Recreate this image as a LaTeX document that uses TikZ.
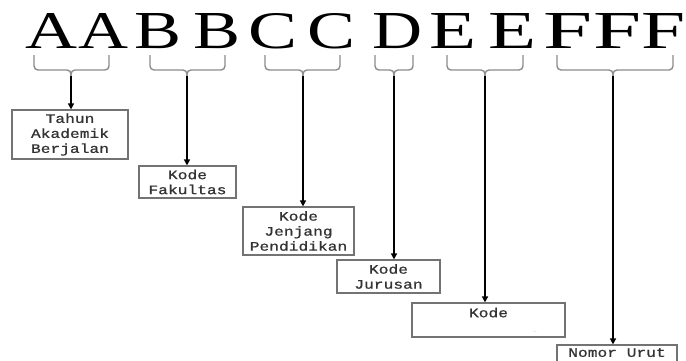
\documentclass[tikz,border=0pt]{standalone}
\usepackage{fontspec}
\usepackage{graphicx}
\usetikzlibrary{arrows.meta}
\newfontfamily\headfont{Liberation Serif}
\newfontfamily\boxfont[FakeStretch=1.25,FakeBold=0.8]{Liberation Mono}

\tikzset{
  letter/.style={anchor=base, inner sep=0pt, font=\headfont\fontsize{50}{50}\selectfont},
  brace/.style={draw=black!45, line width=1.4pt, rounded corners=4pt},
  pointer/.style={draw=black, line width=1.6pt, -{Triangle[length=6pt,width=6pt]}},
  infobox/.style={draw=black!55, line width=1.2pt, align=center, inner sep=0pt,
    font=\boxfont\fontsize{13}{15}\selectfont, text=black!80}
}

% \codebrace{left x}{right x}{stem x}{tip name}
\newcommand\codebrace[4]{%
  \draw[brace] (#1,55) -- (#1,70) -- (#3,70) -- (#3,78);
  \draw[brace] (#2,55) -- (#2,70) -- (#3,70) -- (#3,78);
  \coordinate (#4) at (#3,76);
}

\begin{document}
\begin{tikzpicture}[x=1pt,y=-1pt]
\clip (0,0) rectangle (686,360);
\fill[white] (0,0) rectangle (686,360);

% the code pattern, each capital set wide
\foreach \ch/\cx/\w [count=\i] in {A/52/52,A/104/50,B/158/47,B/217/47,C/273/49,C/331/48,
    D/397/50,E/453/47,E/512/48,F/568/49,F/617/48,F/663/44}
  \node[letter] (l\i) at (\cx,48) {\resizebox{\w pt}{35pt}{\ch}};

% braces under each group
\codebrace{34}{109}{71}{tA}
\codebrace{150}{225}{187}{tB}
\codebrace{265}{340}{303}{tC}
\codebrace{375}{413}{394}{tD}
\codebrace{447}{523}{485}{tE}
\codebrace{557}{673}{613}{tF}

% description boxes
\node[infobox, minimum width=116, minimum height=49] (bA) at (70,134.5) {Tahun\\Akademik\\Berjalan};
\node[infobox, minimum width=97, minimum height=32] (bB) at (187.5,182) {Kode\\Fakultas};
\node[infobox, minimum width=111, minimum height=48] (bC) at (298.5,231) {Kode\\Jenjang\\Pendidikan};
\node[infobox, minimum width=103, minimum height=33] (bD) at (388.5,276.5) {Kode\\Jurusan};
\node[infobox, minimum width=153, minimum height=34] (bE) at (488.5,320) {Kode\\\mbox{}};
\node[text=black!50, font=\sffamily\fontsize{6}{6}\selectfont, inner sep=0pt] (dots) at (535,332) {..};
\node[infobox, minimum width=120, minimum height=30] (bF) at (617,360) {Nomor Urut\\\mbox{}};

% pointers from braces to boxes
\foreach \k in {A,B,C,D,E,F}
  \draw[pointer] (t\k) -- (t\k |- b\k.north);
\end{tikzpicture}
\end{document}
